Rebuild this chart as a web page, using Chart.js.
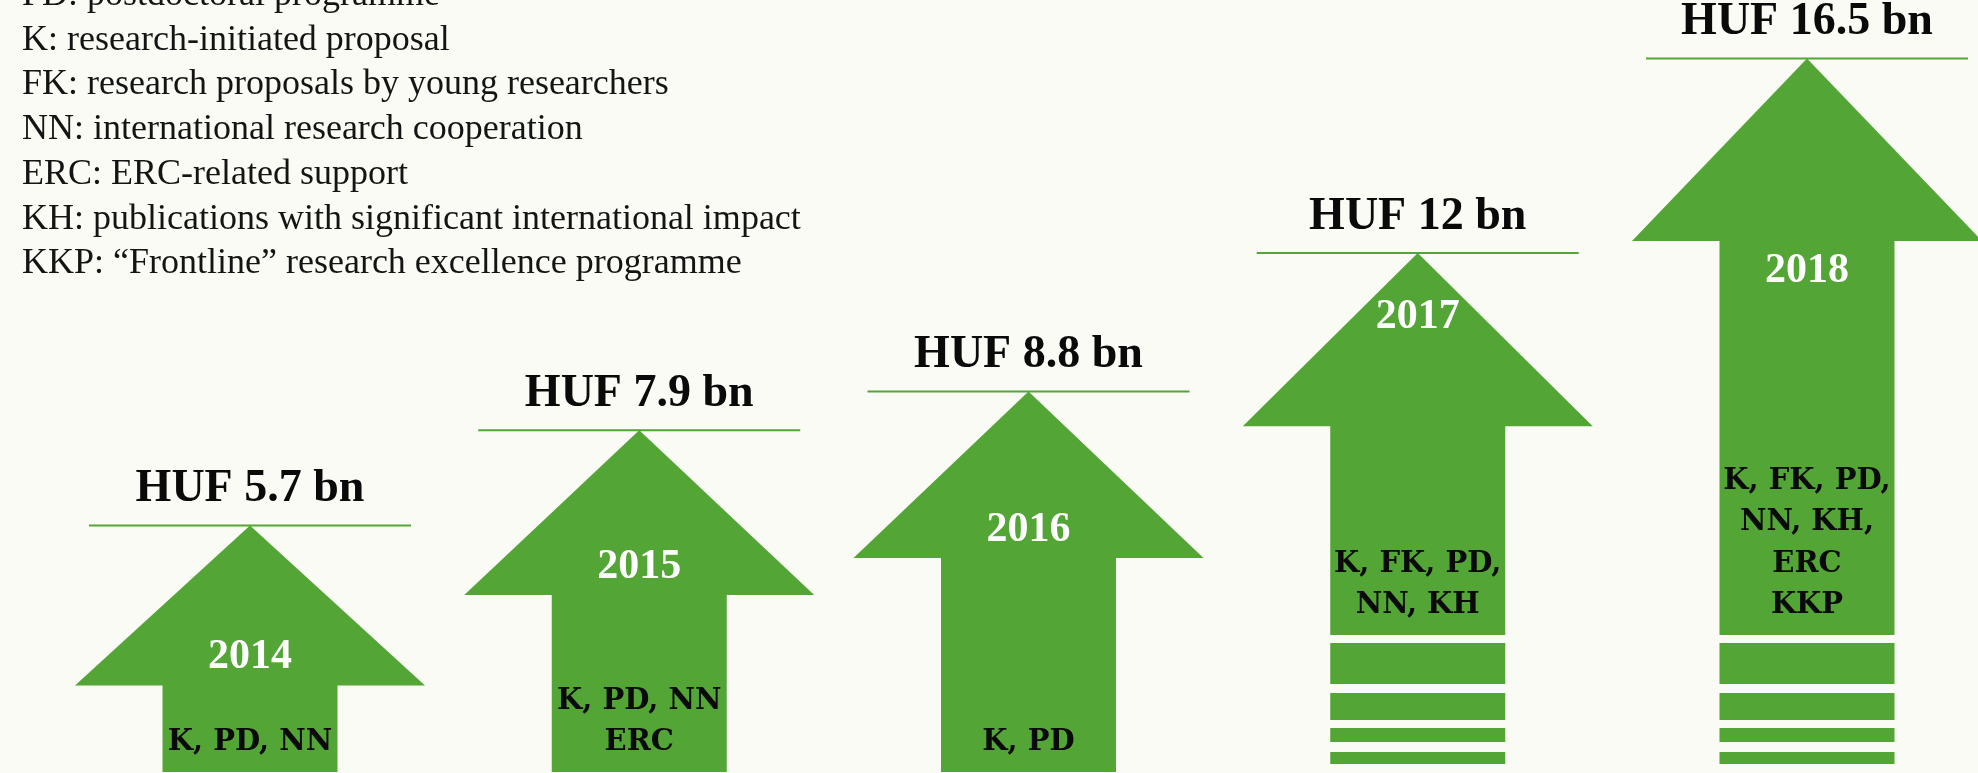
<!DOCTYPE html>
<html>
<head>
<meta charset="utf-8">
<script src="https://cdn.jsdelivr.net/npm/chart.js@4.4.1/dist/chart.umd.min.js"></script>
<style>
  html, body { margin: 0; padding: 0; background: #fafbf5; overflow: hidden; }
</style>
</head>
<body>
<canvas id="my-chart" width="1978" height="773"></canvas>
<script>
// values
const years = ['2014', '2015', '2016', '2017', '2018'];
const funding = [5.7, 7.9, 8.8, 12, 16.5];           // HUF bn
const fundingLabels = ['HUF 5.7 bn', 'HUF 7.9 bn', 'HUF 8.8 bn', 'HUF 12 bn', 'HUF 16.5 bn'];
const schemes = [
  ['K, PD, NN'],
  ['K, PD, NN', 'ERC'],
  ['K, PD'],
  ['K, FK, PD,', 'NN, KH'],
  ['K, FK, PD,', 'NN, KH,', 'ERC', 'KKP']
];
const continued = [false, false, false, true, true];  // striped tail
const abbreviations = ['PD', 'K', 'FK', 'NN', 'ERC', 'KH', 'KKP'];
const meanings = [
  'postdoctoral programme',
  'research-initiated proposal',
  'research proposals by young researchers',
  'international research cooperation',
  'ERC-related support',
  'publications with significant international impact',
  '\u201cFrontline\u201d research excellence programme'
];

const green = '#53a535';
const ctx = document.querySelector('#my-chart');

const arrows = {
  id: 'arrows',
  beforeDraw(chart) {
    const c = chart.ctx;
    c.save();
    c.fillStyle = '#fafbf5';
    c.fillRect(0, 0, chart.width, chart.height);
    // key of abbreviations, top left
    c.fillStyle = '#141414';
    c.font = '36px "Liberation Serif"';
    c.textAlign = 'left';
    c.textBaseline = 'alphabetic';
    abbreviations.forEach((a, i) => {
      c.fillText(a + ': ' + meanings[i], 22, 5 + i * 44.7);
    });
    c.restore();
  },
  afterDatasetsDraw(chart) {
    const c = chart.ctx;
    const area = chart.chartArea;
    const meta = chart.getDatasetMeta(0);
    const headW = 175, shaftW = 87.5;
    c.save();
    meta.data.forEach((bar, i) => {
      const x = bar.x, tip = bar.y, base = bar.base;
      const headH = 148 + 2.1 * funding[i];
      const headBase = tip + headH;
      const shaftEnd = continued[i] ? base - 137 : base;

      c.fillStyle = green;
      c.beginPath();
      c.moveTo(x - headW, headBase);
      c.lineTo(x, tip);
      c.lineTo(x + headW, headBase);
      c.closePath();
      c.fill();
      c.fillRect(x - shaftW, headBase - 1, shaftW * 2, shaftEnd - headBase + 1);
      if (continued[i]) {
        [[8, 49], [58, 85], [93, 107], [117, 129]].forEach(s => {
          c.fillRect(x - shaftW, shaftEnd + s[0], shaftW * 2, s[1] - s[0]);
        });
      }

      // level line and amount
      c.strokeStyle = green;
      c.lineWidth = 2;
      c.beginPath();
      c.moveTo(x - 161, tip);
      c.lineTo(x + 161, tip);
      c.stroke();

      c.textAlign = 'center';
      c.textBaseline = 'alphabetic';
      c.fillStyle = '#0a0a0a';
      c.font = 'bold 46px "Liberation Serif"';
      c.fillText(fundingLabels[i], x, tip - 24);

      // year
      const yearY = continued[i]
        ? Math.max(area.top + (area.bottom - area.top) * 0.365, tip + 75)
        : headBase - 17;
      c.fillStyle = '#ffffff';
      c.font = 'bold 42px "Liberation Serif"';
      c.fillText(years[i], x, yearY);

      // schemes
      c.fillStyle = '#0a0a0a';
      c.font = 'bold 29px "DejaVu Serif"';
      const lines = schemes[i];
      lines.forEach((t, k) => {
        c.fillText(t, x, shaftEnd - 22 - (lines.length - 1 - k) * 41.5);
      });
    });
    c.restore();
  }
};

new Chart(ctx, {
  type: 'bar',
  data: {
    labels: years,
    datasets: [{
      label: 'Funding (HUF bn)',
      data: funding,
      backgroundColor: 'rgba(0,0,0,0)',
      barThickness: 175
    }]
  },
  options: {
    responsive: false,
    animation: false,
    devicePixelRatio: 1,
    layout: { padding: { left: 250, right: 171, top: 0, bottom: 1 } },
    scales: {
      x: { type: 'category', offset: false, display: false },
      y: { min: 0, max: 17.85, display: false }
    },
    plugins: {
      legend: { display: false },
      tooltip: { enabled: false }
    }
  },
  plugins: [arrows]
});
</script>
</body>
</html>
